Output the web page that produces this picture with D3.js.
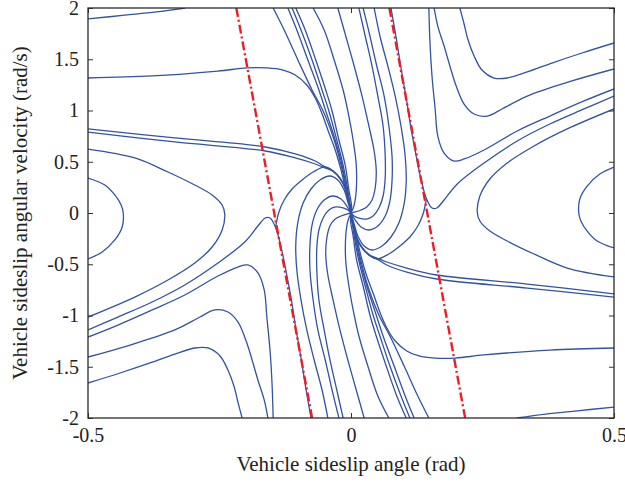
<!DOCTYPE html>
<html>
<head>
<meta charset="utf-8">
<script src="https://cdn.jsdelivr.net/npm/d3@7"></script>
<style>
  html, body { margin: 0; padding: 0; background: #fff; }
  svg { display: block; }
  text { font-family: "Liberation Serif", "Times New Roman", serif; fill: #222; }
</style>
</head>
<body>
<svg id="chart" width="625" height="482"></svg>
<script>
// Axis ticks
const xTicks = [-0.5, 0, 0.5];
const yTicks = [-2, -1.5, -1, -0.5, 0, 0.5, 1, 1.5, 2];

// Phase trajectories: [sideslip angle (rad), sideslip angular velocity (rad/s)]
const L1  = [[-0.5,1.893],[-0.43,1.93],[-0.37,1.962],[-0.315,2.0]];
const L1m = [[0.5,-1.893],[0.43,-1.93],[0.37,-1.962],[0.315,-2.0]];

const B  = [[-0.5,1.317],[-0.378,1.337],[-0.253,1.385],[-0.198,1.415],[-0.16,1.415],[-0.129,1.395],[-0.106,1.346],[-0.084,1.249],[-0.068,1.122],[-0.057,0.995],[-0.044,0.81],[-0.030,0.615],[-0.019,0.42],[-0.010,0.224],[-0.002,0.078],[0,0]];
const Bm = [[0.5,-1.317],[0.378,-1.337],[0.253,-1.385],[0.198,-1.415],[0.16,-1.415],[0.129,-1.395],[0.106,-1.346],[0.084,-1.249],[0.068,-1.122],[0.057,-0.995],[0.044,-0.81],[0.030,-0.615],[0.019,-0.42],[0.010,-0.224],[0.002,-0.078],[0,0]];

const C1  = [[-0.5,0.82],[-0.335,0.732],[-0.163,0.644],[-0.106,0.576],[-0.068,0.507],[-0.049,0.449],[-0.034,0.41],[-0.021,0.341],[-0.011,0.244],[-0.006,0.137],[-0.002,0.059],[0,0]];
const C1m = [[0.5,-0.82],[0.335,-0.732],[0.163,-0.644],[0.106,-0.576],[0.068,-0.507],[0.049,-0.449],[0.034,-0.41],[0.021,-0.341],[0.011,-0.244],[0.006,-0.137],[0.002,-0.059],[0,0]];
const C2  = [[-0.5,0.79],[-0.335,0.693],[-0.163,0.605],[-0.106,0.537],[-0.068,0.478],[-0.049,0.439],[-0.034,0.405],[-0.021,0.336],[-0.011,0.24],[-0.006,0.134],[-0.002,0.057],[0,0]];
const C2m = [[0.5,-0.79],[0.335,-0.693],[0.163,-0.605],[0.106,-0.537],[0.068,-0.478],[0.049,-0.439],[0.034,-0.405],[0.021,-0.336],[0.011,-0.24],[0.006,-0.134],[0.002,-0.057],[0,0]];

const C3  = [[-0.5,0.624],[-0.411,0.537],[-0.348,0.4],[-0.297,0.273],[-0.264,0.176],[-0.245,0.078],[-0.24,-0.01],[-0.245,-0.166],[-0.264,-0.332],[-0.297,-0.488],[-0.348,-0.654],[-0.411,-0.82],[-0.5,-1.015]];
const C3m = [[0.5,-0.624],[0.411,-0.537],[0.348,-0.4],[0.297,-0.273],[0.264,-0.176],[0.245,-0.078],[0.24,0.01],[0.245,0.166],[0.264,0.332],[0.297,0.488],[0.348,0.654],[0.411,0.82],[0.5,1.015]];
const C4  = [[-0.5,0.341],[-0.468,0.273],[-0.449,0.176],[-0.437,0.078],[-0.433,0],[-0.435,-0.137],[-0.449,-0.263],[-0.473,-0.38],[-0.5,-0.449]];
const C4m = [[0.5,-0.341],[0.468,-0.273],[0.449,-0.176],[0.437,-0.078],[0.433,0],[0.435,0.137],[0.449,0.263],[0.473,0.38],[0.5,0.449]];

const D1  = [[-0.5,-1.141],[-0.443,-1.015],[-0.378,-0.868],[-0.316,-0.702],[-0.253,-0.488],[-0.202,-0.283],[-0.177,-0.127],[-0.163,-0.049],[-0.154,-0.049],[-0.143,-0.146],[-0.133,-0.332],[-0.124,-0.556],[-0.114,-0.829],[-0.105,-1.122],[-0.095,-1.415],[-0.086,-1.707],[-0.076,-2.0]];
const D1m = [[0.5,1.141],[0.443,1.015],[0.378,0.868],[0.316,0.702],[0.253,0.488],[0.202,0.283],[0.177,0.127],[0.163,0.049],[0.154,0.049],[0.143,0.146],[0.133,0.332],[0.124,0.556],[0.114,0.829],[0.105,1.122],[0.095,1.415],[0.086,1.707],[0.076,2.0]];
const D2  = [[-0.5,-1.21],[-0.443,-1.093],[-0.378,-0.946],[-0.316,-0.8],[-0.253,-0.615],[-0.215,-0.527],[-0.196,-0.507],[-0.177,-0.585],[-0.165,-0.751],[-0.16,-1.015],[-0.154,-1.337],[-0.15,-1.678],[-0.148,-2.0]];
const D2m = [[0.5,1.21],[0.443,1.093],[0.378,0.946],[0.316,0.8],[0.253,0.615],[0.215,0.527],[0.196,0.507],[0.177,0.585],[0.165,0.751],[0.16,1.015],[0.154,1.337],[0.15,1.678],[0.148,2.0]];
const D3  = [[-0.5,-1.405],[-0.42,-1.288],[-0.335,-1.141],[-0.287,-1.015],[-0.259,-0.946],[-0.234,-0.966],[-0.215,-1.063],[-0.2,-1.239],[-0.188,-1.434],[-0.177,-1.629],[-0.165,-1.824],[-0.158,-2.0]];
const D3m = [[0.5,1.405],[0.42,1.288],[0.335,1.141],[0.287,1.015],[0.259,0.946],[0.234,0.966],[0.215,1.063],[0.2,1.239],[0.188,1.434],[0.177,1.629],[0.165,1.824],[0.158,2.0]];
const D4  = [[-0.5,-1.659],[-0.439,-1.561],[-0.382,-1.463],[-0.335,-1.376],[-0.297,-1.317],[-0.272,-1.317],[-0.249,-1.395],[-0.234,-1.532],[-0.222,-1.698],[-0.215,-1.844],[-0.207,-2.0]];
const D4m = [[0.5,1.659],[0.439,1.561],[0.382,1.463],[0.335,1.376],[0.297,1.317],[0.272,1.317],[0.249,1.395],[0.234,1.532],[0.222,1.698],[0.215,1.844],[0.207,2.0]];

const E1  = [[-0.143,-0.127],[-0.137,0.01],[-0.127,0.127],[-0.112,0.234],[-0.093,0.322],[-0.072,0.4],[-0.049,0.449],[-0.034,0.41],[-0.021,0.341],[-0.011,0.244],[-0.006,0.137],[-0.002,0.059],[0,0]];
const E1m = [[0.143,0.127],[0.137,-0.01],[0.127,-0.127],[0.112,-0.234],[0.093,-0.322],[0.072,-0.4],[0.049,-0.449],[0.034,-0.41],[0.021,-0.341],[0.011,-0.244],[0.006,-0.137],[0.002,-0.059],[0,0]];

const T1  = [[-0.148,2.0],[-0.127,1.785],[-0.101,1.493],[-0.074,1.2],[-0.053,0.995],[-0.032,0.712],[-0.019,0.468],[-0.008,0.224],[-0.002,0.078],[0,0]];
const T1m = [[0.148,-2.0],[0.127,-1.785],[0.101,-1.493],[0.074,-1.2],[0.053,-0.995],[0.032,-0.712],[0.019,-0.468],[0.008,-0.224],[0.002,-0.078],[0,0]];
const T2  = [[-0.12,2.0],[-0.103,1.785],[-0.082,1.493],[-0.061,1.2],[-0.048,0.995],[-0.03,0.712],[-0.017,0.468],[-0.008,0.224],[-0.002,0.078],[0,0]];
const T2m = [[0.12,-2.0],[0.103,-1.785],[0.082,-1.493],[0.061,-1.2],[0.048,-0.995],[0.03,-0.712],[0.017,-0.468],[0.008,-0.224],[0.002,-0.078],[0,0]];
const T3  = [[-0.112,2.0],[-0.095,1.785],[-0.074,1.493],[-0.055,1.2],[-0.042,0.995],[-0.027,0.712],[-0.015,0.468],[-0.006,0.224],[-0.002,0.078],[0,0]];
const T3m = [[0.112,-2.0],[0.095,-1.785],[0.074,-1.493],[0.055,-1.2],[0.042,-0.995],[0.027,-0.712],[0.015,-0.468],[0.006,-0.224],[0.002,-0.078],[0,0]];
const T4  = [[-0.105,2.0],[-0.087,1.785],[-0.067,1.493],[-0.048,1.2],[-0.036,0.995],[-0.023,0.712],[-0.011,0.468],[-0.004,0.224],[0.001,0.07],[0,0]];
const T4m = [[0.105,-2.0],[0.087,-1.785],[0.067,-1.493],[0.048,-1.2],[0.036,-0.995],[0.023,-0.712],[0.011,-0.468],[0.004,-0.224],[-0.001,-0.07],[0,0]];
const T5  = [[-0.072,2.0],[-0.051,1.785],[-0.032,1.493],[-0.015,1.2],[-0.006,0.995],[0.004,0.712],[0.01,0.468],[0.01,0.224],[0.006,0.078],[0,0]];
const T5m = [[0.072,-2.0],[0.051,-1.785],[0.032,-1.493],[0.015,-1.2],[0.006,-0.995],[-0.004,-0.712],[-0.01,-0.468],[-0.01,-0.224],[-0.006,-0.078],[0,0]];

const A1  = [[-0.044,-2.0],[-0.055,-1.727],[-0.07,-1.434],[-0.084,-1.141],[-0.095,-0.849],[-0.103,-0.556],[-0.105,-0.312],[-0.101,-0.088],[-0.091,0.098],[-0.076,0.234],[-0.059,0.322],[-0.04,0.361],[-0.025,0.322],[-0.013,0.224],[-0.006,0.107],[0,0]];
const A1m = [[0.044,2.0],[0.055,1.727],[0.07,1.434],[0.084,1.141],[0.095,0.849],[0.103,0.556],[0.105,0.312],[0.101,0.088],[0.091,-0.098],[0.076,-0.234],[0.059,-0.322],[0.04,-0.361],[0.025,-0.322],[0.013,-0.224],[0.006,-0.107],[0,0]];
const A2  = [[-0.023,-2.0],[-0.036,-1.727],[-0.049,-1.434],[-0.063,-1.141],[-0.072,-0.849],[-0.078,-0.556],[-0.078,-0.312],[-0.074,-0.117],[-0.065,0.029],[-0.051,0.127],[-0.034,0.166],[-0.019,0.137],[-0.008,0.068],[0,0]];
const A2m = [[0.023,2.0],[0.036,1.727],[0.049,1.434],[0.063,1.141],[0.072,0.849],[0.078,0.556],[0.078,0.312],[0.074,0.117],[0.065,-0.029],[0.051,-0.127],[0.034,-0.166],[0.019,-0.137],[0.008,-0.068],[0,0]];
const A3  = [[-0.015,-2.0],[-0.027,-1.727],[-0.04,-1.434],[-0.051,-1.141],[-0.061,-0.849],[-0.065,-0.556],[-0.065,-0.341],[-0.061,-0.166],[-0.053,-0.049],[-0.042,0.029],[-0.029,0.059],[-0.015,0.049],[-0.006,0.029],[0,0]];
const A3m = [[0.015,2.0],[0.027,1.727],[0.04,1.434],[0.051,1.141],[0.061,0.849],[0.065,0.556],[0.065,0.341],[0.061,0.166],[0.053,0.049],[0.042,-0.029],[0.029,-0.059],[0.015,-0.049],[0.006,-0.029],[0,0]];
const A4  = [[0.025,-2.0],[0.01,-1.727],[-0.006,-1.434],[-0.021,-1.141],[-0.034,-0.849],[-0.044,-0.605],[-0.048,-0.41],[-0.046,-0.244],[-0.04,-0.127],[-0.03,-0.059],[-0.019,-0.029],[-0.008,-0.01],[0,0]];
const A4m = [[-0.025,2.0],[-0.01,1.727],[0.006,1.434],[0.021,1.141],[0.034,0.849],[0.044,0.605],[0.048,0.41],[0.046,0.244],[0.04,0.127],[0.03,0.059],[0.019,0.029],[0.008,0.01],[0,0]];

// Stability boundary lines (dash-dot)
const boundaryLeft  = [[-0.218, 2.0], [-0.074, -2.0]];
const boundaryRight = [[0.073, 2.0], [0.217, -2.0]];

const trajectories = [
  L1, L1m, B, Bm, C1, C1m, C2, C2m, C3, C3m, C4, C4m,
  D1, D1m, D2, D2m, D3, D3m, D4, D4m, E1, E1m,
  T1, T1m, T2, T2m, T3, T3m, T4, T4m, T5, T5m,
  A1, A1m, A2, A2m, A3, A3m, A4, A4m
];

const svg = d3.select("#chart");
const pLeft = 88, pRight = 614, pTop = 8, pBottom = 418;

const x = d3.scaleLinear().domain([-0.5, 0.5]).range([pLeft, pRight]);
const y = d3.scaleLinear().domain([-2, 2]).range([pBottom, pTop]);

svg.append("defs").append("clipPath").attr("id", "plotClip")
  .append("rect")
  .attr("x", pLeft).attr("y", pTop)
  .attr("width", pRight - pLeft).attr("height", pBottom - pTop);

const plot = svg.append("g").attr("clip-path", "url(#plotClip)");

const line = d3.line()
  .x(d => x(d[0]))
  .y(d => y(d[1]))
  .curve(d3.curveCatmullRom.alpha(0.5));

plot.selectAll("path.traj")
  .data(trajectories)
  .join("path")
  .attr("class", "traj")
  .attr("d", line)
  .attr("fill", "none")
  .attr("stroke", "#3352a3")
  .attr("stroke-width", 1.3);

const straight = d3.line().x(d => x(d[0])).y(d => y(d[1]));
plot.selectAll("path.boundary")
  .data([boundaryLeft, boundaryRight])
  .join("path")
  .attr("class", "boundary")
  .attr("d", straight)
  .attr("fill", "none")
  .attr("stroke", "#f01c24")
  .attr("stroke-width", 2.4)
  .attr("stroke-dasharray", "9,3,2,3");

// Axes with inward ticks on all four sides
const fmt = d => String(d);

svg.append("g")
  .attr("transform", `translate(${pLeft},0)`)
  .call(d3.axisLeft(y).tickValues(yTicks).tickSize(-5).tickPadding(9).tickFormat(fmt))
  .call(g => g.select(".domain").remove())
  .call(g => g.selectAll("line").attr("stroke", "#333"))
  .call(g => g.selectAll("text").attr("font-size", 20).attr("fill", "#222")
    .attr("font-family", "Liberation Serif, Times New Roman, serif"));

svg.append("g")
  .attr("transform", `translate(${pRight},0)`)
  .call(d3.axisRight(y).tickValues(yTicks).tickSize(-5).tickFormat(""))
  .call(g => g.select(".domain").remove())
  .call(g => g.selectAll("line").attr("stroke", "#333"));

svg.append("g")
  .attr("transform", `translate(0,${pBottom})`)
  .call(d3.axisBottom(x).tickValues(xTicks).tickSize(-5).tickPadding(10).tickFormat(fmt))
  .call(g => g.select(".domain").remove())
  .call(g => g.selectAll("line").attr("stroke", "#333"))
  .call(g => g.selectAll("text").attr("font-size", 20).attr("fill", "#222")
    .attr("font-family", "Liberation Serif, Times New Roman, serif"));

svg.append("g")
  .attr("transform", `translate(0,${pTop})`)
  .call(d3.axisTop(x).tickValues(xTicks).tickSize(-5).tickFormat(""))
  .call(g => g.select(".domain").remove())
  .call(g => g.selectAll("line").attr("stroke", "#333"));

// Frame
svg.append("rect")
  .attr("x", pLeft).attr("y", pTop)
  .attr("width", pRight - pLeft).attr("height", pBottom - pTop)
  .attr("fill", "none")
  .attr("stroke", "#2a2a2a")
  .attr("stroke-width", 1.3);

// Axis titles
svg.append("text")
  .attr("x", (pLeft + pRight) / 2).attr("y", 471)
  .attr("text-anchor", "middle")
  .attr("font-size", 21)
  .text("Vehicle sideslip angle (rad)");

svg.append("text")
  .attr("transform", `translate(27,${(pTop + pBottom) / 2}) rotate(-90)`)
  .attr("text-anchor", "middle")
  .attr("font-size", 21)
  .text("Vehicle sideslip angular velocity (rad/s)");
</script>
</body>
</html>
